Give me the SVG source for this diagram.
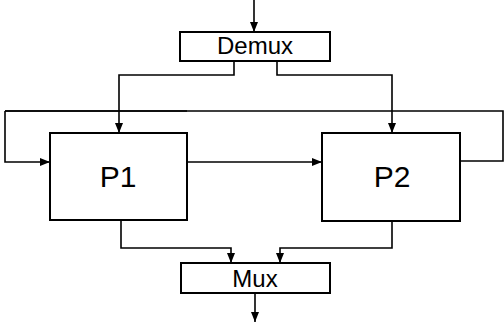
<svg xmlns="http://www.w3.org/2000/svg" width="504" height="326" viewBox="0 0 504 326">
<defs>
<marker id="ah" viewBox="0 0 10 8" refX="10" refY="4" markerWidth="10" markerHeight="8" markerUnits="userSpaceOnUse" orient="auto">
<path d="M0,0 L10,4 L0,8 Z" fill="#000"/>
</marker>
<style>
.box{fill:#fff;stroke:#000;stroke-width:2}
.lbl{font-family:"Liberation Sans",Arial,sans-serif;fill:#000;text-anchor:middle}
.c{fill:none;stroke:#000;stroke-width:1.6;marker-end:url(#ah)}
.cn{fill:none;stroke:#000;stroke-width:1.6}
</style>
</defs>
<rect width="504" height="326" fill="#fff"/>
<g id="connectors">
<path class="c" d="M254,0 V32"/>
<path class="c" d="M234,61 V75 H119 V133"/>
<path class="c" d="M277,61 V75 H392 V133"/>
<path class="cn" d="M187,111 H5"/>
<path class="c" d="M5,111 V162 H50"/>
<path class="cn" d="M5,111 H503 V161 H460"/>
<path class="c" d="M187,162 H322"/>
<path class="c" d="M121,220 V248 H231 V263"/>
<path class="c" d="M392,221 V248 H280 V263"/>
<path class="c" d="M255,293 V322"/>
</g>
<g id="demux">
<rect class="box" x="180" y="32" width="150" height="29"/>
<text class="lbl" x="255" y="54" font-size="24">Demux</text>
</g>
<g id="p1">
<rect class="box" x="50" y="133" width="137" height="87"/>
<text class="lbl" x="118" y="187" font-size="30">P1</text>
</g>
<g id="p2">
<rect class="box" x="322" y="133" width="138" height="88"/>
<text class="lbl" x="392" y="187" font-size="30">P2</text>
</g>
<g id="mux">
<rect class="box" x="181" y="263" width="149" height="30"/>
<text class="lbl" x="255" y="287" font-size="24">Mux</text>
</g>
</svg>
